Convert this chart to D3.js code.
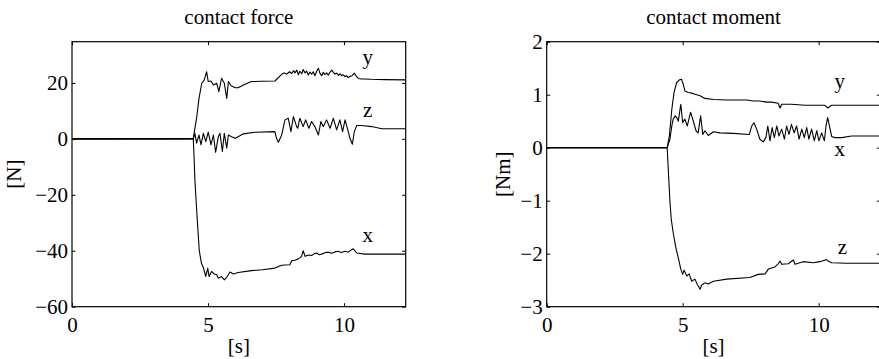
<!DOCTYPE html>
<html>
<head>
<meta charset="utf-8">
<script src="https://cdn.jsdelivr.net/npm/d3@7"></script>
<style>
  body { margin: 0; background: #fff; }
  text { font-family: "Liberation Serif", "DejaVu Serif", serif; fill: #000; }
</style>
</head>
<body>
<svg id="chart" width="879" height="359"></svg>
<script>

// time range of both records [s]
var timeRange = [0, 12.27];
var timeTicks = [0, 5, 10];

// contact force [N], pairs of [t, value]
var forceX = [[0,0],[4.46,0],[4.49,-7],[4.52,-15],[4.6,-28],[4.68,-40],[4.76,-44.5],[4.83,-46],[4.92,-49.2],[4.99,-46.2],
  [5.04,-49.2],[5.13,-47.4],[5.23,-48.3],[5.32,-48.6],[5.38,-49.8],[5.5,-49.2],[5.6,-50.4],[5.69,-49.5],[5.81,-47.6],
  [5.93,-48.3],[6.11,-47.8],[6.6,-47.1],[7.0,-46.8],[7.46,-46.2],[7.71,-45.2],[8.01,-45],[8.08,-43.6],[8.2,-43.4],
  [8.32,-42.9],[8.44,-42],[8.5,-40],[8.57,-42],[8.7,-41.5],[8.81,-41.7],[8.9,-41.1],[9.0,-40.8],[9.08,-41.4],
  [9.18,-41.2],[9.3,-40.7],[9.42,-40.5],[9.55,-40.9],[9.67,-40.4],[9.79,-40.2],[9.9,-40.6],[10.04,-40.2],
  [10.16,-40.5],[10.28,-39.6],[10.34,-39.3],[10.47,-40.8],[10.77,-41.2],[11.5,-41.2],[12.27,-41.2]];

var forceY = [[0,0],[4.46,0.2],[4.58,7.4],[4.67,14.5],[4.77,19.9],[4.86,21],[4.95,24],[5.01,20.5],[5.11,20.7],
  [5.2,19.3],[5.32,19.9],[5.4,16.9],[5.5,21.7],[5.6,19.9],[5.69,14.5],[5.75,20.5],[5.85,19],[6.0,18.3],[6.11,18.3],
  [6.3,19.3],[6.6,20.5],[7.0,20.6],[7.46,20.7],[7.71,23.1],[7.8,23.6],[7.9,23.2],[8.0,24.0],[8.08,23.4],[8.15,24.4],
  [8.2,23.6],[8.27,24.6],[8.32,22.9],[8.38,24.2],[8.45,23.3],[8.5,24.8],[8.57,23.6],[8.63,24.2],[8.69,22.8],
  [8.75,23.9],[8.81,23.1],[8.87,24.0],[8.93,22.6],[9.0,24.3],[9.06,25.2],[9.12,23.4],[9.18,22.6],[9.24,23.8],
  [9.3,23.0],[9.36,23.6],[9.42,22.8],[9.49,23.9],[9.55,24.6],[9.61,23.8],[9.67,23.2],[9.73,23.5],[9.8,22.7],
  [9.86,23.3],[9.91,22.6],[9.97,22.9],[10.04,22.3],[10.1,22.6],[10.16,21.9],[10.22,22.3],[10.3,22.6],[10.38,23.5],
  [10.45,22.4],[10.53,21.6],[10.65,21.4],[10.77,21.4],[11.0,21.3],[11.5,21.2],[12.27,21.1]];

var forceZ = [[0,0],[4.46,0],[4.52,2],[4.58,-1.5],[4.67,1.4],[4.74,-2.1],[4.83,2],[4.92,-1],[5.01,2.4],[5.11,-2.1],
  [5.2,1.4],[5.28,-4.8],[5.38,0.8],[5.44,2],[5.53,-4.5],[5.6,2],[5.69,-3.3],[5.75,1.4],[5.87,0.8],[6.0,0.2],
  [6.11,0.8],[6.3,1.8],[6.73,2.4],[7.46,2.6],[7.52,0.2],[7.59,-1.2],[7.71,1.4],[7.83,6.8],[7.95,7.4],[8.05,2.6],
  [8.14,8],[8.2,6.2],[8.26,4.4],[8.3,3.8],[8.38,7.4],[8.5,4.4],[8.59,6.8],[8.71,3.8],[8.81,6.2],[8.93,4.4],
  [9.06,1.4],[9.15,6.2],[9.24,4.4],[9.36,6.8],[9.49,3.8],[9.61,7.4],[9.73,3.2],[9.85,6.8],[9.95,2.6],[10.04,6.8],
  [10.14,3.2],[10.22,0.2],[10.31,-1.9],[10.38,2.6],[10.47,4.8],[10.65,4.8],[11.02,4.4],[11.39,3.6],[12.27,3.6]];

// contact moment [Nm]
var momentX = [[0,0],[4.43,0],[4.53,0.16],[4.6,0.41],[4.65,0.54],[4.72,0.6],[4.78,0.57],[4.84,0.5],[4.93,0.82],
  [5.0,0.47],[5.08,0.54],[5.17,0.41],[5.29,0.67],[5.39,0.5],[5.49,0.32],[5.57,0.28],[5.66,0.6],[5.74,0.25],
  [5.82,0.32],[5.94,0.23],[6.13,0.3],[6.37,0.28],[6.86,0.27],[7.45,0.25],[7.54,0.41],[7.62,0.47],[7.72,0.35],
  [7.84,0.16],[7.96,0.11],[8.06,0.19],[8.13,0.41],[8.21,0.13],[8.29,0.38],[8.37,0.19],[8.46,0.41],[8.54,0.22],
  [8.64,0.35],[8.74,0.16],[8.82,0.41],[8.91,0.25],[9.0,0.44],[9.1,0.28],[9.19,0.41],[9.28,0.16],[9.38,0.35],
  [9.47,0.19],[9.56,0.38],[9.64,0.16],[9.74,0.35],[9.84,0.13],[9.93,0.32],[10.01,0.13],[10.11,0.28],[10.21,0.13],
  [10.27,0.41],[10.33,0.57],[10.42,0.35],[10.48,0.21],[10.6,0.19],[10.85,0.19],[11.21,0.22],[11.7,0.22],[12.27,0.22]];

var momentY = [[0,0],[4.43,0],[4.51,0.22],[4.6,0.72],[4.68,1.04],[4.78,1.23],[4.88,1.28],[4.96,1.29],[5.02,1.2],
  [5.08,1.07],[5.21,1.04],[5.33,1.03],[5.45,1.01],[5.64,0.98],[5.82,0.93],[6.13,0.91],[6.62,0.9],[7.35,0.9],
  [7.6,0.88],[7.84,0.88],[8.09,0.86],[8.27,0.86],[8.51,0.84],[8.58,0.75],[8.64,0.82],[9.0,0.82],[9.5,0.8],
  [10.23,0.8],[10.33,0.75],[10.48,0.8],[12.27,0.8]];

var momentZ = [[0,0],[4.43,0],[4.46,-0.3],[4.5,-0.7],[4.53,-1.0],[4.58,-1.35],[4.65,-1.6],[4.75,-1.89],[4.84,-2.08],
  [4.93,-2.29],[5.0,-2.39],[5.05,-2.31],[5.15,-2.42],[5.24,-2.38],[5.33,-2.52],[5.45,-2.48],[5.54,-2.58],
  [5.64,-2.67],[5.7,-2.59],[5.82,-2.55],[5.94,-2.57],[6.13,-2.52],[6.62,-2.48],[7.47,-2.45],[7.78,-2.39],
  [8.03,-2.38],[8.15,-2.29],[8.39,-2.25],[8.51,-2.19],[8.58,-2.14],[8.64,-2.2],[8.88,-2.19],[9.07,-2.12],
  [9.13,-2.2],[9.43,-2.15],[9.8,-2.17],[10.05,-2.15],[10.29,-2.11],[10.35,-2.14],[10.48,-2.17],[11.03,-2.18],
  [12.27,-2.18]];

var forceTicks = [-60, -40, -20, 0, 20];
var momentTicks = [-3, -2, -1, 0, 1, 2];

// curve labels: [text, t, value]
var forceLabels = [["y", 10.87, 26.8], ["z", 10.87, 7.75], ["x", 10.87, -37]];
var momentLabels = [["y", 10.78, 1.12], ["x", 10.78, -0.16], ["z", 10.87, -2.01]];


var svg = d3.select("#chart");
var plotW = 333.7, plotH = 265, plotTop = 41.7;
var fontSize = "21px";

function minusFmt(d) {
    return d < 0 ? "\u2212" + Math.abs(d) : String(d);
}

function draw_panel(left, title, yUnit, yDomain, yTicks, series, labels) {

    var x = d3.scaleLinear().domain(timeRange).range([0, plotW]);
    var y = d3.scaleLinear().domain(yDomain).range([plotH, 0]);

    var g = svg.append("g").attr("transform", "translate(" + left + "," + plotTop + ")");

    // curves first, frame on top
    var line = d3.line()
        .x(function(d) { return x(d[0]); })
        .y(function(d) { return y(d[1]); });

    series.forEach(function(s) {
        g.append("path")
            .datum(s)
            .attr("d", line)
            .attr("fill", "none")
            .attr("stroke", "#000")
            .attr("stroke-width", 1.1)
            .attr("stroke-linejoin", "round");
    });

    var bottom = g.append("g").attr("transform", "translate(0," + plotH + ")")
        .call(d3.axisBottom(x).tickValues(timeTicks).tickSizeInner(-3.5).tickSizeOuter(0).tickPadding(10));
    var top = g.append("g")
        .call(d3.axisTop(x).tickValues(timeTicks).tickSizeInner(-3.5).tickSizeOuter(0).tickFormat(""));
    var leftAx = g.append("g")
        .call(d3.axisLeft(y).tickValues(yTicks).tickSizeInner(-3.5).tickSizeOuter(0).tickPadding(4).tickFormat(minusFmt));
    var rightAx = g.append("g").attr("transform", "translate(" + plotW + ",0)")
        .call(d3.axisRight(y).tickValues(yTicks).tickSizeInner(-3.5).tickSizeOuter(0).tickFormat(""));

    [bottom, top, leftAx, rightAx].forEach(function(a) {
        a.select(".domain").remove();
        a.selectAll("line").attr("stroke", "#000");
        a.selectAll("text").style("font-size", fontSize).attr("font-family", null);
    });

    g.append("rect")
        .attr("width", plotW)
        .attr("height", plotH)
        .attr("fill", "none")
        .attr("stroke", "#000")
        .attr("stroke-width", 1.2);

    g.selectAll("text.clabel")
        .data(labels)
        .enter().append("text")
        .attr("class", "clabel")
        .attr("x", function(d) { return x(d[1]); })
        .attr("y", function(d) { return y(d[2]); })
        .attr("text-anchor", "middle")
        .style("font-size", fontSize)
        .text(function(d) { return d[0]; });

    g.append("text")
        .attr("x", plotW / 2)
        .attr("y", 24 - plotTop)
        .attr("text-anchor", "middle")
        .style("font-size", fontSize)
        .text(title);

    g.append("text")
        .attr("x", plotW / 2)
        .attr("y", plotH + 46)
        .attr("text-anchor", "middle")
        .style("font-size", fontSize)
        .text("[s]");

    g.append("text")
        .attr("transform", "translate(" + (left < 100 ? -51 : -37) + "," + (plotH / 2) + ") rotate(-90)")
        .attr("text-anchor", "middle")
        .style("font-size", fontSize)
        .text(yUnit);
}

draw_panel(72, "contact force", "[N]", [-60, 34.75], forceTicks, [forceX, forceY, forceZ], forceLabels);
draw_panel(546.7, "contact moment", "[Nm]", [-3, 2], momentTicks, [momentX, momentY, momentZ], momentLabels);

</script>
</body>
</html>
